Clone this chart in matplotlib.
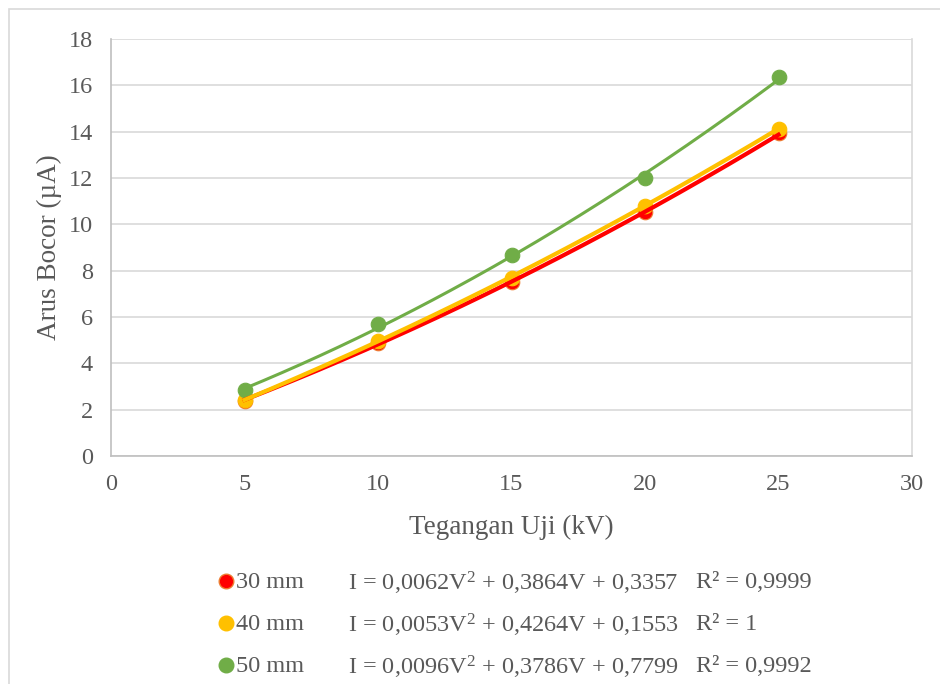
import numpy as np
import matplotlib.pyplot as plt
from matplotlib.lines import Line2D
from matplotlib.patches import Rectangle

plt.rcParams['font.family'] = ['Liberation Serif', 'DejaVu Serif']
plt.rcParams['mathtext.fontset'] = 'custom'
plt.rcParams['mathtext.rm'] = 'Liberation Serif'
plt.rcParams['mathtext.it'] = 'Liberation Serif:italic'

# data
voltage = [5, 10, 15, 20, 25]
current_30 = [2.37, 4.88, 7.51, 10.53, 13.94]
current_40 = [2.40, 4.95, 7.70, 10.80, 14.10]
current_50 = [2.85, 5.68, 8.67, 12.02, 16.38]

# trendline coefficients (from the chart legend)
coef_30 = [0.0062, 0.3864, 0.3357]
coef_40 = [0.0053, 0.4264, 0.1553]
coef_50 = [0.0096, 0.3786, 0.7799]

labels = ['30 mm', '40 mm', '50 mm']
equations = ['I = 0,0062V$^{\\mathrm{2}}$ + 0,3864V + 0,3357',
             'I = 0,0053V$^{\\mathrm{2}}$ + 0,4264V + 0,1553',
             'I = 0,0096V$^{\\mathrm{2}}$ + 0,3786V + 0,7799']
r2_texts = ['R² = 0,9999', 'R² = 1', 'R² = 0,9992']

colors = ['#FF0000', '#FFC000', '#70AD47']
edges = ['#ED7D31', '#FFC000', '#70AD47']
widths = [3.0, 3.0, 2.2]
grey = '#595959'

fig = plt.figure(figsize=(9.4, 6.84), dpi=100)
# outer chart frame (only top and left edges fall inside the picture)
fig.patches.append(Rectangle((9 / 940, -0.05), 1.0, 1 - 9 / 684 + 0.05,
                             transform=fig.transFigure, fill=False,
                             edgecolor='#d9d9d9', linewidth=1.2))
ax = fig.add_axes([111 / 940, 228 / 684, 801 / 940, 417 / 684])

series = [current_30, current_40, current_50]
coefs = [coef_30, coef_40, coef_50]
vv = np.linspace(voltage[0], voltage[-1], 200)
for ys, col, ec in zip(series, colors, edges):
    ax.scatter(voltage, ys, s=110, color=col, edgecolors=ec, linewidths=0.8, zorder=3)
for c, col, lw in zip(coefs, colors, widths):
    ax.plot(vv, np.polyval(c, vv), color=col, linewidth=lw, zorder=4)

ax.set_xlim(0, 30)
ax.set_ylim(0, 18)
ax.set_xticks(range(0, 31, 5))
ax.set_yticks(range(0, 19, 2))
ax.grid(axis='y', color='#d9d9d9', linewidth=1.2)
ax.set_axisbelow(True)
ax.spines['top'].set_visible(False)
ax.spines['right'].set_color('#d9d9d9')
ax.spines['right'].set_linewidth(1.2)
for s in ['left', 'bottom']:
    ax.spines[s].set_color('#bfbfbf')
    ax.spines[s].set_linewidth(1.2)
ax.tick_params(length=0, labelsize=17.5, colors=grey)
ax.tick_params(axis='x', pad=13)
ax.tick_params(axis='y', pad=13)
ax.set_xlabel('Tegangan Uji (kV)', fontsize=19.5, color=grey, labelpad=14)
ax.set_ylabel('Arus Bocor (µA)', fontsize=19.5, color=grey, labelpad=5)

# legend built by hand so the equations line up in columns
rows_y = [583, 625, 667]
for lab, eq, r2, col, ec, y in zip(labels, equations, r2_texts, colors, edges, rows_y):
    fy = 1 - y / 684
    fig.add_artist(Line2D([226 / 940], [1 - (y - 2) / 684], marker='o', markersize=10.5,
                          markerfacecolor=col, markeredgecolor=ec,
                          linestyle='none', transform=fig.transFigure))
    fig.text(236 / 940, fy, lab, fontsize=17.5, color=grey, va='center')
    fig.text(348 / 940, fy, eq, fontsize=17.5, color=grey, va='center')
    fig.text(696 / 940, fy, r2, fontsize=17.5, color=grey, va='center')

fig.savefig('out.png', dpi=100)
